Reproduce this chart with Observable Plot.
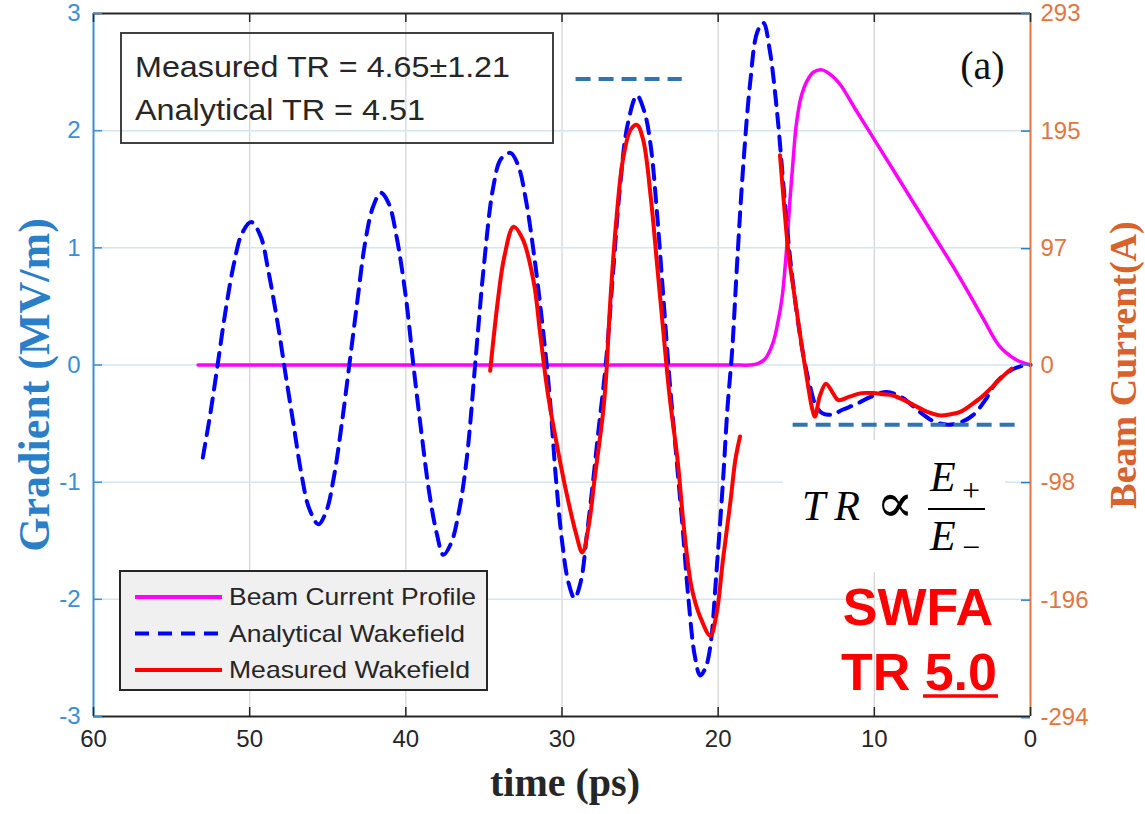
<!DOCTYPE html>
<html><head><meta charset="utf-8">
<script src="https://cdn.jsdelivr.net/npm/d3@7"></script>
<script src="https://cdn.jsdelivr.net/npm/@observablehq/plot@0.6"></script>
<style>body{margin:0;background:#fff}#chart{width:1145px;height:814px}</style>
</head><body><div id="chart"></div>
<script>
// ---------- data ----------
const xTicks = [60, 50, 40, 30, 20, 10, 0];
const leftTicks = [3, 2, 1, 0, -1, -2, -3];
const rightTickValues = [293, 195, 97, 0, -98, -196, -294];
const rightTickLabels = ["293", "195", "97", "0", "-98", "-196", "-294"];

const analyticT = [53.0,52.5,52.0,51.5,51.0,50.5,49.9,49.3,48.8,48.2,47.7,47.2,46.7,46.2,45.6,45.1,44.6,44.1,43.6,43.1,42.6,42.1,41.6,41.1,40.6,40.0,39.5,39.0,38.5,38.0,37.6,37.1,36.6,36.1,35.5,35.0,34.4,33.9,33.3,32.8,32.3,31.8,31.3,30.8,30.4,30.0,29.6,29.2,28.8,28.4,28.0,27.7,27.2,26.7,26.3,25.8,25.2,24.7,24.3,23.9,23.5,23.1,22.7,22.3,21.9,21.5,21.15,20.8,20.5,20.1,19.7,19.4,19.1,18.8,18.4,17.95,17.5,17.1,16.7,16.2,15.8,15.4,14.9,14.5,14.1,13.7,13.2,12.65,12.0,11.1,10.2,9.2,8.2,7.1,6.2,5.3,4.5,3.7,2.9,2.2,1.2,0.25,0.0];
const analyticG = [-0.79,-0.40,0.05,0.50,0.87,1.12,1.22,1.10,0.80,0.35,-0.08,-0.50,-0.92,-1.22,-1.36,-1.25,-0.95,-0.50,0.02,0.55,1.05,1.35,1.47,1.38,1.10,0.58,-0.02,-0.58,-1.09,-1.45,-1.62,-1.52,-1.25,-0.80,0.10,0.85,1.52,1.76,1.81,1.70,1.40,0.95,0.40,-0.25,-0.95,-1.50,-1.85,-1.99,-1.85,-1.44,-0.98,-0.60,0.00,0.84,1.50,2.05,2.30,2.15,1.85,1.27,0.56,-0.15,-0.75,-1.35,-2.00,-2.48,-2.65,-2.58,-2.40,-1.75,-1.01,-0.36,0.13,0.84,1.69,2.41,2.84,2.92,2.69,2.12,1.50,0.92,0.38,0.05,-0.19,-0.36,-0.42,-0.42,-0.38,-0.33,-0.27,-0.23,-0.28,-0.40,-0.48,-0.51,-0.49,-0.43,-0.30,-0.15,-0.04,0.00,0.00];

const measuredT1 = [34.6,34.1,33.7,33.1,32.5,31.8,31.4,30.9,30.3,29.7,29.1,28.7,28.3,27.9,27.4,27.2,26.9,26.5,26.1,25.6,25.2,24.8,24.3,23.9,23.5,23.1,22.6,22.2,21.7,21.15,20.5,20.1,19.7,19.2,18.9,18.6];
const measuredG1 = [-0.05,0.56,0.92,1.18,1.07,0.70,0.27,-0.25,-0.70,-1.10,-1.44,-1.60,-1.38,-0.96,-0.44,-0.15,0.56,1.27,1.75,2.01,2.05,1.92,1.41,0.84,0.27,-0.28,-0.81,-1.38,-1.90,-2.15,-2.31,-2.12,-1.67,-1.15,-0.81,-0.61];
const measuredT2 = [16.04,15.8,15.5,15.1,14.7,14.3,14.0,13.8,13.5,13.1,12.65,12.3,11.6,10.8,10.1,9.4,8.8,8.1,7.5,6.6,5.8,5.1,4.5,3.8,3.1,2.4,1.8,1.2];
const measuredG2 = [1.79,1.40,0.96,0.58,0.21,-0.13,-0.36,-0.44,-0.27,-0.16,-0.24,-0.30,-0.27,-0.24,-0.24,-0.25,-0.26,-0.30,-0.34,-0.40,-0.43,-0.42,-0.40,-0.34,-0.27,-0.18,-0.10,-0.03];

const beamT = [53.3,45.0,35.0,25.0,19.0,18.0,17.5,17.0,16.5,16.2,15.9,15.6,15.4,15.2,15.0,14.7,14.3,13.9,13.35,12.8,12.2,11.2,10.1,9.0,8.0,7.0,6.0,5.0,4.0,3.0,2.0,1.0,0.5,0.0];
const beamA = [0,0,0,0,0,0,1,5,18,34,57,100,138,171,200,223,237,244,246,242,234,213,190,167,146,125,104,83,61,38,16,5,2,0];

const refUpperT = [29.1, 22.3];
const refUpperG = [2.44];
const refLowerT = [15.2, 0.5];
const refLowerG = [-0.51];

const legendLabels = ["Beam Current Profile", "Analytical Wakefield", "Measured Wakefield"];
const textboxLines = ["Measured TR = 4.65\u00b11.21", "Analytical TR = 4.51"];
const axisTitles = {left: "Gradient (MV/m)", right: "Beam Current(A)", bottom: "time (ps)"};

// ---------- tables ----------
const ampsPerUnit = rightTickValues[0] / leftTicks[0];
const analytic = analyticT.map((t, i) => ({t, g: analyticG[i]}));
const measured = [
  ...measuredT1.map((t, i) => ({t, g: measuredG1[i], seg: 1})),
  ...measuredT2.map((t, i) => ({t, g: measuredG2[i], seg: 2}))
];
const beam = beamT.map((t, i) => ({t, a: beamA[i]}));

// ---------- styles ----------
const BLUE_AX = "#3a8ed6", BLUE_LBL = "#2a7fc8", ORANGE = "#e0773f", ORANGE_LBL = "#d9622b";
const DARK = "#262626";
const SANS = "Liberation Sans, Arial, sans-serif";
const SERIF = "Liberation Serif, DejaVu Serif, serif";

const plot = Plot.plot({
  width: 1145, height: 814,
  marginLeft: 93, marginRight: 115, marginTop: 13, marginBottom: 98,
  x: {domain: [60, 0], axis: null},
  y: {domain: [-3, 3], axis: null},
  style: {fontFamily: SANS, background: "white", overflow: "visible"},
  marks: [
    Plot.ruleX(xTicks.slice(1, -1), {x: d => d, stroke: "#d6d6d6", strokeWidth: 1.3}),
    Plot.ruleY(leftTicks.slice(1, -1), {y: d => d, stroke: "#d4e6f4", strokeWidth: 1.5}),
    Plot.line(beam, {x: "t", y: d => d.a / ampsPerUnit, stroke: "#ff00ff", strokeWidth: 3.5, curve: "catmull-rom"}),
    Plot.line(analytic, {x: "t", y: "g", stroke: "#0000ff", strokeWidth: 4, strokeDasharray: "14,9", curve: "catmull-rom"}),
    Plot.line(measured, {x: "t", y: "g", z: "seg", stroke: "#ff0000", strokeWidth: 4, curve: "catmull-rom"}),
    Plot.ruleY(refUpperG, {y: d => d, x1: refUpperT[0], x2: refUpperT[1], stroke: "#2f74b5", strokeWidth: 4, strokeDasharray: "15,8"}),
    Plot.ruleY(refLowerG, {y: d => d, x1: refLowerT[0], x2: refLowerT[1], stroke: "#2f74b5", strokeWidth: 4, strokeDasharray: "15,8"}),
    // frame lines
    Plot.ruleY([leftTicks[0]], {y: d => d, stroke: DARK, strokeWidth: 2}),
    Plot.ruleY([leftTicks[leftTicks.length - 1]], {y: d => d, stroke: DARK, strokeWidth: 2}),
    Plot.ruleX([xTicks[0]], {x: d => d, stroke: BLUE_AX, strokeWidth: 2}),
    Plot.ruleX([xTicks[xTicks.length - 1]], {x: d => d, stroke: ORANGE, strokeWidth: 2}),
    // inward ticks
    Plot.tickX(xTicks, {x: d => d, insetTop: 694, stroke: DARK, strokeWidth: 1.5}),
    Plot.tickX(xTicks, {x: d => d, insetBottom: 694, stroke: DARK, strokeWidth: 1.5}),
    Plot.tickY(leftTicks, {y: d => d, insetRight: 928, stroke: BLUE_AX, strokeWidth: 1.5}),
    Plot.tickY(rightTickValues, {y: d => d / ampsPerUnit, insetLeft: 928, stroke: "#2f78bd", strokeWidth: 1.5}),
    // tick labels
    Plot.text(xTicks, {x: d => d, frameAnchor: "bottom", dy: 30, text: d => String(d), fontSize: 24, fill: DARK}),
    Plot.text(leftTicks, {y: d => d, frameAnchor: "left", dx: -13, textAnchor: "end", text: d => String(d), fontSize: 24, fill: BLUE_AX}),
    Plot.text(rightTickValues, {y: d => d / ampsPerUnit, frameAnchor: "right", dx: 10, textAnchor: "start", text: (d, i) => rightTickLabels[i], fontSize: 24, fill: ORANGE}),
    // axis titles
    Plot.text([axisTitles.left], {frameAnchor: "left", textAnchor: "middle", dx: -59, dy: 20, rotate: -90, text: d => d, fontSize: 44, fontWeight: "bold", fontFamily: SERIF, fill: BLUE_LBL}),
    Plot.text([axisTitles.right], {frameAnchor: "right", textAnchor: "middle", dx: 93, dy: 0, rotate: -90, text: d => d, fontSize: 38, fontWeight: "bold", fontFamily: SERIF, fill: ORANGE_LBL}),
    Plot.text([axisTitles.bottom], {frameAnchor: "bottom", textAnchor: "middle", dx: 3, dy: 79, text: d => d, fontSize: 40, fontWeight: "bold", fontFamily: SERIF, fill: DARK}),
    Plot.text(["(a)"], {frameAnchor: "top-right", textAnchor: "middle", dx: -48, dy: 37, text: d => d, fontSize: 40, fontFamily: SERIF, fill: "#111"})
  ]
});
document.getElementById("chart").appendChild(plot);

const svg = d3.select(plot);
const ann = svg.append("g").attr("text-anchor", "start");
// white background behind formula
ann.append("rect").attr("x", 783).attr("y", 440).attr("width", 222).attr("height", 132).attr("fill", "white");

// text box
ann.append("rect").attr("x", 121).attr("y", 33).attr("width", 432).attr("height", 110)
  .attr("fill", "none").attr("stroke", "#404040").attr("stroke-width", 2);
const tbLen = [375, 290];
textboxLines.forEach((s, i) => {
  ann.append("text").attr("x", 135).attr("y", 77 + i * 43).text(s)
    .attr("font-family", SANS).attr("font-size", 30).attr("fill", DARK)
    .attr("textLength", tbLen[i]).attr("lengthAdjust", "spacingAndGlyphs");
});

// legend
ann.append("rect").attr("x", 120).attr("y", 571).attr("width", 367).attr("height", 119)
  .attr("fill", "#f0f0f0").attr("stroke", DARK).attr("stroke-width", 2);
const legStroke = ["#ff00ff", "#0000ff", "#ff0000"];
const legDash = [null, "14,9", null];
const legLen = [247, 236, 241];
legendLabels.forEach((s, i) => {
  const yb = 605 + i * 36.5;
  ann.append("line").attr("x1", 135).attr("x2", 222).attr("y1", yb - 8).attr("y2", yb - 8)
    .attr("stroke", legStroke[i]).attr("stroke-width", 4).attr("stroke-dasharray", legDash[i]);
  ann.append("text").attr("x", 229).attr("y", yb).text(s)
    .attr("font-family", SANS).attr("font-size", 24).attr("fill", DARK)
    .attr("textLength", legLen[i]).attr("lengthAdjust", "spacingAndGlyphs");
});

// formula TR ∝ E+/E-
ann.append("text").attr("x", 802).attr("y", 520).text("TR").attr("font-family", SERIF)
  .attr("font-style", "italic").attr("font-size", 42).attr("fill", "#000").attr("letter-spacing", 9);
ann.append("text").attr("x", 876).attr("y", 522).text("\u221d").attr("font-family", SERIF)
  .attr("font-size", 56).attr("fill", "#000");
ann.append("line").attr("x1", 928).attr("x2", 985).attr("y1", 509).attr("y2", 509).attr("stroke", "#000").attr("stroke-width", 1.8);
ann.append("text").attr("x", 930).attr("y", 491).text("E").attr("font-family", SERIF)
  .attr("font-style", "italic").attr("font-size", 42).attr("fill", "#000");
ann.append("text").attr("x", 962).attr("y", 501).text("+").attr("font-family", SERIF)
  .attr("font-size", 32).attr("fill", "#000");
ann.append("text").attr("x", 930).attr("y", 550).text("E").attr("font-family", SERIF)
  .attr("font-style", "italic").attr("font-size", 42).attr("fill", "#000");
ann.append("text").attr("x", 962).attr("y", 558).text("\u2212").attr("font-family", SERIF)
  .attr("font-size", 32).attr("fill", "#000");

// SWFA TR 5.0
ann.append("text").attr("x", 993).attr("y", 625).attr("text-anchor", "end").text("SWFA")
  .attr("font-family", SANS).attr("font-weight", "bold")
  .attr("font-size", 52).attr("fill", "#ff0000");
ann.append("text").attr("x", 997).attr("y", 690).attr("text-anchor", "end").text("TR 5.0")
  .attr("font-family", SANS).attr("font-weight", "bold")
  .attr("font-size", 52).attr("fill", "#ff0000");
ann.append("line").attr("x1", 923).attr("x2", 998).attr("y1", 696).attr("y2", 696)
  .attr("stroke", "#ff0000").attr("stroke-width", 3.5);
</script>
</body></html>
